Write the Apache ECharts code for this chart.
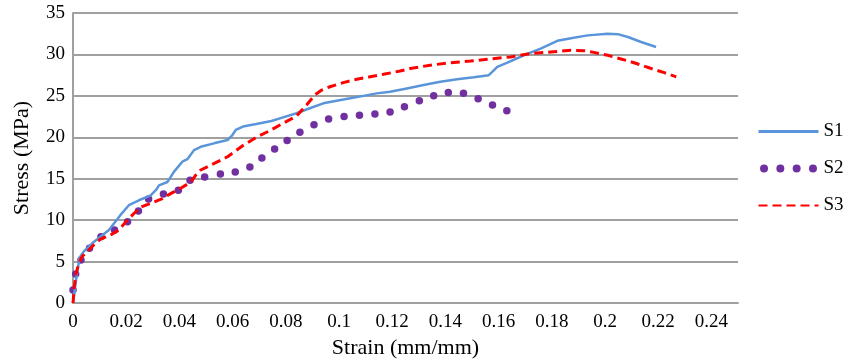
<!DOCTYPE html>
<html>
<head>
<meta charset="utf-8">
<script src="https://cdn.jsdelivr.net/npm/echarts@6/dist/echarts.min.js"></script>
<style>html,body{margin:0;padding:0;background:#fff}#c{width:843px;height:361px}</style>
</head>
<body>
<div id="c"></div>
<script>
const seriesNames = ['S1', 'S2', 'S3'];
const xTickValues = [0, 0.02, 0.04, 0.06, 0.08, 0.1, 0.12, 0.14, 0.16, 0.18, 0.2, 0.22, 0.24];
const yTickValues = [0, 5, 10, 15, 20, 25, 30, 35];

const s1Strain = [0, 0.0015, 0.0025, 0.004, 0.0072, 0.0103, 0.0135, 0.0154, 0.0178, 0.021, 0.0248, 0.0292, 0.0314, 0.0323, 0.0355, 0.038, 0.0411, 0.043, 0.0455, 0.048, 0.053, 0.0581, 0.06, 0.0612, 0.0639, 0.0689, 0.0746, 0.079, 0.084, 0.089, 0.0941, 0.0991, 0.1042, 0.1092, 0.1142, 0.1192, 0.1255, 0.1318, 0.1381, 0.1444, 0.1507, 0.1563, 0.1576, 0.1595, 0.1633, 0.1695, 0.1758, 0.1821, 0.1872, 0.1935, 0.201, 0.2048, 0.2086, 0.2136, 0.2192];
const s1Stress = [0, 3.6, 5.5, 6.2, 7.2, 8.0, 8.8, 9.6, 10.6, 11.8, 12.4, 13.0, 13.7, 14.2, 14.6, 15.85, 17.05, 17.35, 18.45, 18.85, 19.27, 19.67, 20.3, 20.9, 21.3, 21.6, 21.96, 22.4, 22.9, 23.5, 24.1, 24.4, 24.7, 25.0, 25.3, 25.5, 25.9, 26.3, 26.7, 27.0, 27.25, 27.5, 27.9, 28.5, 29.0, 29.9, 30.7, 31.65, 31.95, 32.3, 32.5, 32.45, 32.1, 31.5, 30.9];

const s2Strain = [0, 0.001, 0.003, 0.0062, 0.0105, 0.0156, 0.0205, 0.0246, 0.0284, 0.034, 0.0396, 0.044, 0.0495, 0.0554, 0.061, 0.0665, 0.071, 0.0758, 0.0805, 0.0853, 0.0906, 0.0961, 0.1019, 0.1077, 0.1135, 0.1192, 0.1246, 0.1302, 0.1356, 0.1411, 0.1468, 0.1523, 0.1577, 0.1631];
const s2Stress = [1.57, 3.5, 5.2, 6.6, 8.0, 8.8, 9.8, 11.1, 12.55, 13.15, 13.6, 14.8, 15.2, 15.57, 15.8, 16.4, 17.5, 18.6, 19.6, 20.6, 21.5, 22.2, 22.5, 22.65, 22.8, 23.05, 23.7, 24.4, 25.0, 25.4, 25.3, 24.65, 23.9, 23.2];

const s3Strain = [0, 0.0005, 0.0012, 0.0022, 0.0034, 0.0053, 0.0078, 0.0103, 0.0141, 0.0172, 0.0204, 0.0229, 0.0254, 0.0305, 0.0336, 0.0367, 0.0405, 0.0443, 0.0462, 0.048, 0.0531, 0.0581, 0.0639, 0.0689, 0.074, 0.079, 0.084, 0.0878, 0.0909, 0.0935, 0.0966, 0.1016, 0.1067, 0.1117, 0.1167, 0.123, 0.1268, 0.1343, 0.1419, 0.1494, 0.157, 0.1645, 0.1721, 0.1796, 0.1872, 0.1921, 0.1958, 0.201, 0.206, 0.2109, 0.2174, 0.2223, 0.2268];
const s3Stress = [0, 2.0, 3.6, 4.8, 5.6, 6.2, 7.0, 7.7, 8.2, 8.8, 10.0, 10.8, 11.55, 12.2, 12.6, 13.2, 13.85, 14.6, 15.45, 16.05, 16.85, 17.65, 19.0, 20.0, 20.8, 21.7, 22.55, 23.9, 25.1, 25.7, 26.1, 26.6, 27.0, 27.3, 27.6, 28.0, 28.3, 28.7, 29.0, 29.2, 29.45, 29.7, 30.1, 30.3, 30.5, 30.45, 30.25, 29.9, 29.45, 29.0, 28.3, 27.8, 27.3];

const zip = (xs, ys) => xs.map((x, i) => [x, ys[i]]);
const font = 'Liberation Serif';
const dotsIcon = 'path://M0.2,4a3.8,3.8 0 1,0 7.6,0a3.8,3.8 0 1,0 -7.6,0Z' +
  'M15.7,4a3.8,3.8 0 1,0 7.6,0a3.8,3.8 0 1,0 -7.6,0Z' +
  'M31.2,4a3.8,3.8 0 1,0 7.6,0a3.8,3.8 0 1,0 -7.6,0Z' +
  'M46.7,4a3.8,3.8 0 1,0 7.6,0a3.8,3.8 0 1,0 -7.6,0Z';
const hiddenSymbol = {opacity: 0, color: 'rgba(0,0,0,0)', borderWidth: 0};

const chart = echarts.init(document.getElementById('c'), null, {renderer: 'canvas'});
chart.setOption({
  animation: false,
  backgroundColor: '#fff',
  grid: {left: 73, right: 105, top: 13, bottom: 58, containLabel: false, outerBoundsMode: 'none'},
  legend: {
    orient: 'vertical', left: 757, top: 122, padding: 0,
    itemWidth: 60, itemHeight: 8, itemGap: 18,
    textStyle: {fontFamily: font, fontSize: 19, color: '#000'},
    data: [
      {name: seriesNames[0], itemStyle: hiddenSymbol, lineStyle: {width: 3}},
      {name: seriesNames[1], icon: dotsIcon},
      {name: seriesNames[2], itemStyle: hiddenSymbol}
    ]
  },
  xAxis: {
    type: 'value', min: 0, max: 0.25, interval: 0.02,
    name: 'Strain (mm/mm)', nameLocation: 'middle', nameGap: 33,
    nameTextStyle: {fontFamily: font, fontSize: 22, color: '#000'},
    axisLine: {show: true, lineStyle: {color: '#a0a0a0', width: 2}},
    axisTick: {show: false},
    splitLine: {show: false},
    axisLabel: {
      fontFamily: font, fontSize: 19, color: '#000', margin: 10, showMaxLabel: false,
      formatter: v => xTickValues.some(t => Math.abs(t - v) < 1e-9) ? String(+v.toFixed(2)) : ''
    }
  },
  yAxis: {
    type: 'value', min: 0, max: 35, interval: 5,
    name: 'Stress (MPa)', nameLocation: 'middle', nameGap: 40, nameRotate: 90,
    nameTextStyle: {fontFamily: font, fontSize: 22, color: '#000'},
    axisLine: {show: true, lineStyle: {color: '#a0a0a0', width: 2}},
    axisTick: {show: false},
    splitLine: {show: true, lineStyle: {color: '#a0a0a0', width: 2}},
    axisLabel: {
      fontFamily: font, fontSize: 19, color: '#000', margin: 8,
      formatter: v => yTickValues.includes(v) ? String(v) : ''
    }
  },
  series: [
    {
      name: seriesNames[0], type: 'line', data: zip(s1Strain, s1Stress),
      symbol: 'none', showSymbol: false, smooth: false,
      lineStyle: {color: '#5b95d9', width: 2.5}, itemStyle: {color: '#5b95d9'}, z: 3
    },
    {
      name: seriesNames[1], type: 'scatter', data: zip(s2Strain, s2Stress),
      symbol: 'circle', symbolSize: 7.5,
      itemStyle: {color: '#7030a0', opacity: 1}, z: 2
    },
    {
      name: seriesNames[2], type: 'line', data: zip(s3Strain, s3Stress),
      symbol: 'none', showSymbol: false,
      lineStyle: {color: '#ff0000', width: 3, type: [9, 5]}, itemStyle: {color: '#ff0000'}, z: 4
    }
  ]
});
</script>
</body>
</html>
